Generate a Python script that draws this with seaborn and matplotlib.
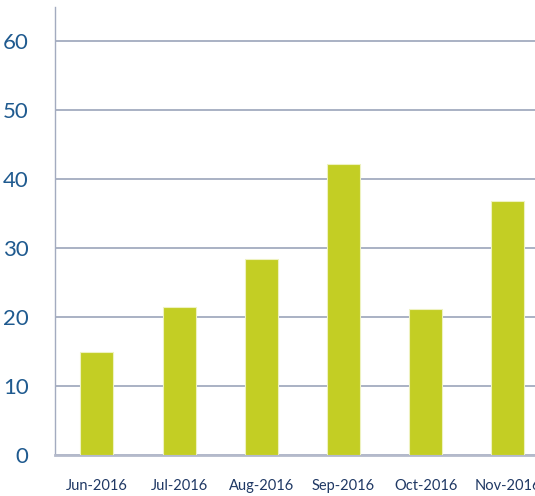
import matplotlib
matplotlib.use("Agg")
import matplotlib.pyplot as plt
import seaborn as sns
import pandas as pd

# Data
months = ["Jun-2016", "Jul-2016", "Aug-2016", "Sep-2016", "Oct-2016", "Nov-2016"]
values = [15.0, 21.4, 28.4, 42.2, 21.2, 36.8]
y_ticks = [0, 10, 20, 30, 40, 50, 60]

df = pd.DataFrame({"month": months, "value": values})

sns.set_style("white")
plt.rcParams["font.family"] = ["Lato", "DejaVu Sans"]

fig = plt.figure(figsize=(5.35, 4.96), dpi=100)
ax = fig.add_axes([0.1028, 0.0827, 0.8972, 0.9032])

sns.barplot(data=df, x="month", y="value", color="#c3ce24", width=0.4,
            edgecolor="#eef2c0", linewidth=0.8, saturation=1, ax=ax, zorder=3)

ax.set_ylim(0, 65)
ax.set_xlim(-0.51, 5.33)
ax.set_yticks(y_ticks)
ax.set_xlabel("")
ax.set_ylabel("")

ax.yaxis.grid(True, color="#a3abbf", linewidth=1.3, zorder=0)
ax.set_axisbelow(True)

for side in ["top", "right"]:
    ax.spines[side].set_visible(False)
ax.spines["left"].set_color("#a3abbf")
ax.spines["left"].set_linewidth(1.0)
ax.spines["bottom"].set_color("#b4bacb")
ax.spines["bottom"].set_linewidth(2.0)

ax.tick_params(axis="y", length=0, pad=19, labelsize=16, labelcolor="#1f5a8f")
ax.tick_params(axis="x", length=0, pad=17, labelsize=10.5, labelcolor="#1f3864")

fig.savefig("out.png", dpi=100)
